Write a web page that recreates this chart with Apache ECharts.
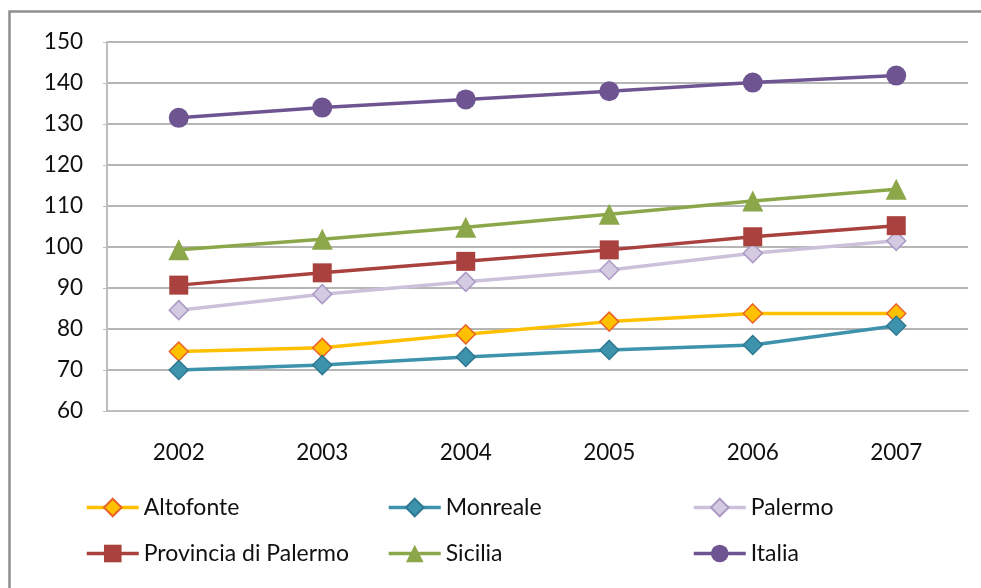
<!DOCTYPE html>
<html>
<head>
<meta charset="utf-8">
<script src="https://cdn.jsdelivr.net/npm/echarts@6/dist/echarts.min.js"></script>
<style>
  html, body { margin: 0; padding: 0; background: #ffffff; }
  #chart { width: 981px; height: 588px; }
</style>
</head>
<body>
<div id="chart"></div>
<script>
// Anni
const years = ['2002', '2003', '2004', '2005', '2006', '2007'];

// Serie per territorio
const altofonte = [74.5, 75.4, 78.7, 81.8, 83.8, 83.8];
const monreale  = [70.0, 71.2, 73.2, 74.9, 76.1, 80.8];
const palermo   = [84.6, 88.5, 91.5, 94.4, 98.5, 101.5];
const provincia = [90.7, 93.7, 96.5, 99.3, 102.5, 105.2];
const sicilia   = [99.3, 101.9, 104.8, 108.0, 111.2, 114.1];
const italia    = [131.5, 134.0, 136.0, 138.0, 140.1, 141.8];

const FONT = 'Lato, "Open Sans", sans-serif';

function lineSeries(name, data, color, symbol, size, fill, border) {
  return {
    name: name,
    type: 'line',
    data: data,
    symbol: symbol,
    symbolSize: size,
    lineStyle: { color: color, width: 3.5 },
    itemStyle: { color: fill, borderColor: border, borderWidth: border ? 1.5 : 0 },
    emphasis: { disabled: true },
    z: 3
  };
}

const series = [
  lineSeries('Altofonte', altofonte, '#FFC000', 'diamond', 19, '#FFC000', '#E8632B'),
  lineSeries('Monreale', monreale, '#3E93AC', 'diamond', 19, '#3E93AC', '#2F7891'),
  lineSeries('Palermo', palermo, '#CCC1DB', 'diamond', 19, '#D4CAE2', '#AC9AC6'),
  lineSeries('Provincia di Palermo', provincia, '#A9423F', 'rect', 19, '#A9423F', null),
  lineSeries('Sicilia', sicilia, '#8CA74A', 'triangle', 21, '#8CA74A', null),
  lineSeries('Italia', italia, '#6E5591', 'circle', 20, '#6E5591', null)
];

// Una voce di legenda per cella: tre colonne, due righe
const legendCols = [85, 387, 692];
const legendRows = [496, 542];
const legendNames = series.map(s => s.name);
const legends = legendNames.map((name, i) => ({
  data: [name],
  left: legendCols[i % 3],
  top: legendRows[Math.floor(i / 3)],
  padding: 0,
  orient: 'horizontal',
  itemWidth: 52,
  itemHeight: 22,
  lineStyle: { width: 3.5 },
  textStyle: { fontFamily: FONT, fontSize: 23, color: '#111111' }
}));

const chart = echarts.init(document.getElementById('chart'), null, { renderer: 'canvas' });
chart.setOption({
  animation: false,
  backgroundColor: '#ffffff',
  graphic: [{
    type: 'rect',
    shape: { x: 9.5, y: 11.5, width: 1100, height: 700 },
    style: { fill: 'none', stroke: '#8f8f8f', lineWidth: 2.5 },
    silent: true,
    z: 0
  }],
  grid: { left: 107, right: 13, top: 42, bottom: 177, containLabel: false },
  xAxis: {
    type: 'category',
    data: years,
    boundaryGap: true,
    axisLine: { show: true, lineStyle: { color: '#bdbdbd', width: 2 } },
    axisTick: { show: false },
    axisLabel: { fontFamily: FONT, fontSize: 22.5, color: '#111111', margin: 30 }
  },
  yAxis: {
    type: 'value',
    min: 60,
    max: 150,
    interval: 10,
    axisLine: { show: true, lineStyle: { color: '#bdbdbd', width: 2 } },
    axisTick: { show: true, length: 4, lineStyle: { color: '#bdbdbd' } },
    axisLabel: { fontFamily: FONT, fontSize: 22.5, color: '#111111', margin: 24 },
    splitLine: { show: true, lineStyle: { color: '#9e9e9e', width: 1.5 } }
  },
  legend: legends,
  series: series
});
</script>
</body>
</html>
